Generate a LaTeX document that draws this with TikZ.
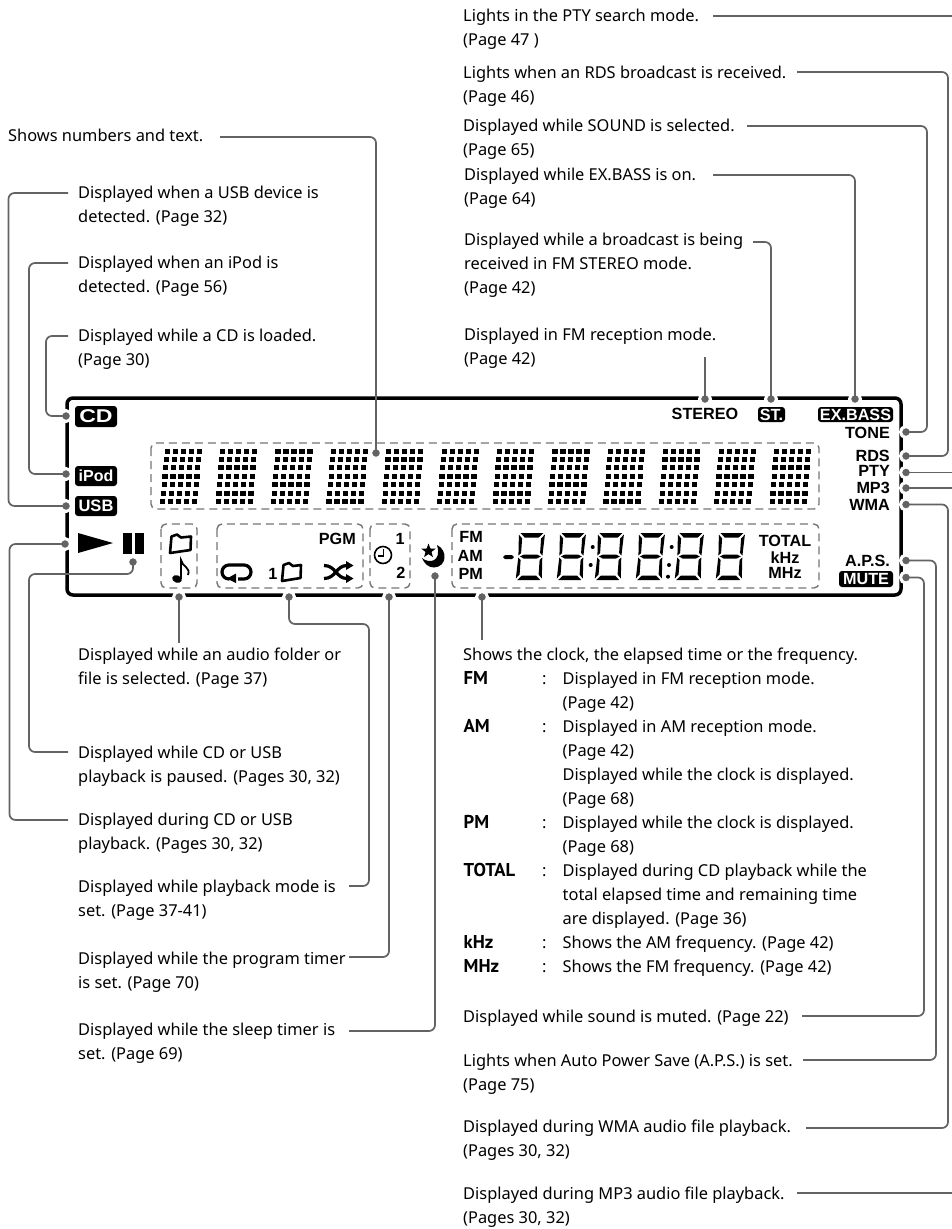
\documentclass[tikz,border=0pt]{standalone}
\usepackage{fontspec}
\usepackage{graphicx}
\setmainfont{Noto Sans}
\newfontfamily\lcdfont{Liberation Sans}
\newfontfamily\rowfont{PT Sans}
\usetikzlibrary{calc,shapes.geometric}
\definecolor{leadgray}{HTML}{636363}
\definecolor{dashgray}{HTML}{757575}

\begin{document}
\begin{tikzpicture}[x=1pt,y=-1pt,inner sep=0pt,
	lbl/.style={anchor=north west,yshift=11.3pt,align=left,font=\fontsize{16.4}{24}\selectfont},
	lcd/.style={font=\lcdfont\bfseries\fontsize{16.2}{17}\selectfont},
	lcdright/.style={lcd,anchor=east},
	badge/.style={fill=black,text=white,rounded corners=3pt,lcd},
	dot/.style={circle,fill=leadgray,draw=white,line width=3pt,minimum size=11pt},
	lead/.style={draw=leadgray,line width=1.7pt,rounded corners=6pt},
	dashbox/.style={draw=dashgray,line width=1.4pt,dash pattern=on 8pt off 5pt,rounded corners=5pt},
	icon/.style={draw=black,line width=2.6pt,line join=round}]
	
	\path[use as bounding box] (0,0) rectangle (952,1229);
	
	\draw[line width=3.5pt,rounded corners=6pt] (67,398) rectangle (901,595);
	
	\draw[dashbox] (151,443) rectangle (819,509);
	\draw[dashbox] (161,524) rectangle (197,588);
	\draw[dashbox] (217,524) rectangle (363,588);
	\draw[dashbox] (370,524) rectangle (410,588);
	\draw[dashbox] (452,524) rectangle (819,588);
	
	\foreach \c in {0,...,11}{
		\foreach \i in {0,...,4}{
			\foreach \j in {0,...,6}{
				\fill ({164.5+\c*55.4+\i*8-\j*0.72},{448.5+\j*8.4}) rectangle +(5.2,5);
			}
		}
	};
	
	\node at (96,416.5) [badge,minimum width=42pt,minimum height=21pt,font=\lcdfont\bfseries\fontsize{18.5}{19}\selectfont] (bcd) {\scalebox{1.25}[1]{CD}};
	\node at (96,476) [badge,minimum width=42pt,minimum height=20pt,font=\lcdfont\bfseries\fontsize{16}{16}\selectfont] (bipod) {iPod};
	\node at (96,506) [badge,minimum width=42pt,minimum height=20pt,font=\lcdfont\bfseries\fontsize{16.5}{16}\selectfont] (busb) {USB};
	
	\node at (705,414) [lcd] (lstereo) {STEREO};
	\node at (771.5,414.5) [badge,minimum width=27pt,minimum height=15pt] (bst) {ST.};
	\node at (855.5,414.5) [badge,minimum width=75pt,minimum height=15pt] (bexbass) {EX.BASS};
	\node at (890,433) [lcdright] (ltone) {TONE};
	\node at (890,456) [lcdright] (lrds) {RDS};
	\node at (890,471) [lcdright] (lpty) {PTY};
	\node at (890,488) [lcdright] (lmp3) {MP3};
	\node at (890,505) [lcdright] (lwma) {WMA};
	\node at (890,561) [lcdright] (laps) {A.P.S.};
	\node at (866,579) [badge,minimum width=54pt,minimum height=16pt] (bmute) {MUTE};
	
	\fill (78,533) -- (113,543) -- (78,553) -- cycle;
	\fill (123,533) rectangle (132,554);
	\fill (135,533) rectangle (144,554);
	
	\draw[icon] (170,553) -- (171.5,536.5) -- (177,534.5) -- (181,537.5) -- (191,536.5) -- (190.5,550) -- cycle;
	\draw[icon] (282,581) -- (283.5,565) -- (289,563) -- (293,566) -- (301,565) -- (300.5,578) -- cycle;
	\fill[rotate around={-20:(177,579)}] (177,579) ellipse (5pt and 3.7pt);
	\draw[line width=1.8pt] (181,579) -- (181,560) .. controls (182,567) and (191,567) .. (188,575);
	
	\draw[icon,line width=3.2pt,rounded corners=7pt] (238,579) -- (251,579) -- (251,565) -- (222,565) -- (222,579) -- (228,579);
	\fill (227,578.5) -- (236,573.5) -- (236,583) -- cycle;
	
	\draw[icon,line width=3.2pt] (324,565.5) .. controls (336,565.5) and (336,578.5) .. (347,578.5);
	\draw[icon,line width=3.2pt] (324,578.5) .. controls (336,578.5) and (336,565.5) .. (347,565.5);
	\fill (346,561) -- (353.5,565.5) -- (346,570) -- cycle;
	\fill (346,574) -- (353.5,578.5) -- (346,583) -- cycle;
	
	\node at (273,574) [lcd] (lone) {1};
	\node at (356,539) [lcdright] (lpgm) {PGM};
	\node at (400,539) [lcd] (ltimera) {1};
	\node at (401,573) [lcd] (ltimerb) {2};
	\node at (383,555) [circle,draw,line width=1.6pt,minimum size=17pt] (clk) {};
	\draw[line width=1.5pt] (383.5,549) -- (383.5,556) -- (378,556);
	
	\fill (437,545) .. controls (448,550) and (447,567) .. (434,567.5) .. controls (428,567.5) and (424,563) .. (422,558) .. controls (429,564) and (442,562) .. (437,545) -- cycle;
	\node at (428.5,551) [star,star points=5,star point ratio=2.4,fill=black,minimum size=15pt] (stars) {};
	
	\foreach \d in {519,560,598,639,678,719}{
		\begin{scope}[shift={(\d,533)},xslant=0.07]
			\fill (1.5,0) -- (24.5,0) -- (20,4.5) -- (6,4.5) -- cycle;
			\fill (2.5,23.5) -- (6.5,21.5) -- (19.5,21.5) -- (23.5,23.5) -- (19.5,25.5) -- (6.5,25.5) -- cycle;
			\fill (1.5,47) -- (24.5,47) -- (20,42.5) -- (6,42.5) -- cycle;
			\fill (0,1.5) -- (3.5,5.5) -- (3.5,20) -- (1,22.5) -- cycle;
			\fill (26,1.5) -- (22.5,5.5) -- (22.5,20) -- (25,22.5) -- cycle;
			\fill (0,45.5) -- (3.5,41.5) -- (3.5,27) -- (1,24.5) -- cycle;
			\fill (26,45.5) -- (22.5,41.5) -- (22.5,27) -- (25,24.5) -- cycle;
		\end{scope}
	};
	\fill (503,557) -- (505,555) -- (512,555) -- (514,557) -- (512,559) -- (505,559) -- cycle;
	\foreach \x/\y in {592.7/547,590.7/565,671.7/547,669/565,668/576.7}{
		\fill (\x,\y) circle (2pt);
	};
	
	\node at (483,537) [lcdright] (lfm) {FM};
	\node at (483,556) [lcdright] (lam) {AM};
	\node at (483,574) [lcdright] (lpm) {PM};
	\node at (785,541) [lcd] (ltotal) {TOTAL};
	\node at (785,558) [lcd] (lkhz) {kHz};
	\node at (785,573) [lcd] (lmhz) {MHz};
	
	\node at (463,16) [lbl] (tpty) {\strut Lights in the PTY search mode.\\(Page 47 )};
	\node at (463,73) [lbl] (trds) {\strut Lights when an RDS broadcast is received.\\(Page 46)};
	\node at (463,126) [lbl] (tsound) {\strut Displayed while SOUND is selected.\\(Page 65)};
	\node at (464,175) [lbl] (tbass) {\strut Displayed while EX.BASS is on.\\(Page 64)};
	\node at (464,240) [lbl] (tst) {\strut Displayed while a broadcast is being\\received in FM STEREO mode.\\(Page 42)};
	\node at (464,335) [lbl] (tstereo) {\strut Displayed in FM reception mode.\\(Page 42)};
	
	\node at (8,136) [lbl] (tnum) {\strut Shows numbers and text.};
	\node at (78,193) [lbl] (tusb) {\strut Displayed when a USB device is\\detected. (Page 32)};
	\node at (78,263) [lbl] (tipod) {\strut Displayed when an iPod is\\detected. (Page 56)};
	\node at (78,336) [lbl] (tcd) {\strut Displayed while a CD is loaded.\\(Page 30)};
	
	\node at (78,655) [lbl] (tfolder) {\strut Displayed while an audio folder or\\file is selected. (Page 37)};
	\node at (78,753) [lbl] (tpause) {\strut Displayed while CD or USB\\playback is paused. (Pages 30, 32)};
	\node at (78,820) [lbl] (tplay) {\strut Displayed during CD or USB\\playback. (Pages 30, 32)};
	\node at (78,887) [lbl] (tmode) {\strut Displayed while playback mode is\\set. (Page 37-41)};
	\node at (78,959) [lbl] (ttimer) {\strut Displayed while the program timer\\is set. (Page 70)};
	\node at (78,1030) [lbl] (tsleep) {\strut Displayed while the sleep timer is\\set. (Page 69)};
	
	\node at (463,655) [lbl] (tclock) {\strut Shows the clock, the elapsed time or the frequency.};
	\foreach \y/\n/\k in {679/FM/a,727/AM/b,823/PM/c,871/TOTAL/d,943/kHz/e,967/MHz/f}{
		\node at (463.5,\y) [lbl] (r\k) {\strut\rowfont\bfseries\fontsize{18.6}{24}\selectfont\n};
		\node at (542,\y) [lbl] (s\k) {\strut:};
	};
	\node at (562.5,679) [lbl] (ufm) {\strut Displayed in FM reception mode.\\(Page 42)};
	\node at (562.5,727) [lbl] (uam) {\strut Displayed in AM reception mode.\\(Page 42)\\Displayed while the clock is displayed.\\(Page 68)};
	\node at (562.5,823) [lbl] (upm) {\strut Displayed while the clock is displayed.\\(Page 68)};
	\node at (562.5,871) [lbl] (utotal) {\strut Displayed during CD playback while the\\total elapsed time and remaining time\\are displayed. (Page 36)};
	\node at (562.5,943) [lbl] (ukhz) {\strut Shows the AM frequency. (Page 42)};
	\node at (562.5,967) [lbl] (umhz) {\strut Shows the FM frequency. (Page 42)};
	
	\node at (463,1017) [lbl] (tmute) {\strut Displayed while sound is muted. (Page 22)};
	\node at (463,1061) [lbl] (taps) {\strut Lights when Auto Power Save (A.P.S.) is set.\\(Page 75)};
	\node at (463,1127) [lbl] (twma) {\strut Displayed during WMA audio file playback.\\(Pages 30, 32)};
	\node at (463,1194) [lbl] (tmp) {\strut Displayed during MP3 audio file playback.\\(Pages 30, 32)};
	
	\node at (66,416) [dot] (dcd) {};
	\node at (66,474) [dot] (dipod) {};
	\node at (66,506) [dot] (dusb) {};
	\node at (65,544) [dot] (dplay) {};
	\node at (133,562) [dot] (dpause) {};
	\node at (179,597) [dot] (dfolder) {};
	\node at (289,597) [dot] (dmode) {};
	\node at (389,597) [dot] (dtimer) {};
	\node at (435,576) [dot] (dsleep) {};
	\node at (376,453) [dot] (dnum) {};
	\node at (482,597) [dot] (dclock) {};
	\node at (705,399) [dot] (dstereo) {};
	\node at (771,399) [dot] (dst) {};
	\node at (855,399) [dot] (dbass) {};
	\node at (906,432) [dot] (dsound) {};
	\node at (906,456) [dot] (drds) {};
	\node at (906,472.5) [dot] (dpty) {};
	\node at (906,488) [dot] (dmp) {};
	\node at (906,504.5) [dot] (dwma) {};
	\node at (906,560.5) [dot] (daps) {};
	\node at (906,577.5) [dot] (dmute) {};
	
	\coordinate (ecd) at (68,336);
	\coordinate (eipod) at (68,263);
	\coordinate (eusb) at (68,193);
	\coordinate (eplay) at (68,820);
	\coordinate (epause) at (68,752);
	\coordinate (efolder) at (179,643);
	\coordinate (emode) at (349,886);
	\coordinate (etimer) at (349,957);
	\coordinate (esleep) at (349,1031);
	\coordinate (enum) at (220,137);
	\coordinate (eclock) at (482,640);
	\coordinate (estereo) at (705,357);
	\coordinate (est) at (753,242);
	\coordinate (ebass) at (713,175);
	\coordinate (esound) at (747,126);
	\coordinate (erds) at (797,72);
	\coordinate (eptyt) at (713,16);
	\coordinate (eptya) at (952,16);
	\coordinate (eptyb) at (952,472.5);
	\coordinate (empb) at (952,488);
	\coordinate (empa) at (952,1193);
	\coordinate (empt) at (797,1193);
	\coordinate (ewma) at (806,1128);
	\coordinate (eaps) at (803,1060);
	\coordinate (emute) at (802,1016);
	
	\draw[lead] (dcd.center) -| (46,376) |- (ecd);
	\draw[lead] (dipod.center) -| (29,376) |- (eipod);
	\draw[lead] (dusb.center) -| (8.5,376) |- (eusb);
	\draw[lead] (dplay.center) -| (9.5,700) |- (eplay);
	\draw[lead] (dpause.center) |- (29,574) |- (epause);
	\draw[lead] (dfolder.center) -- (efolder);
	\draw[lead] (dmode.center) |- (369,624) |- (emode);
	\draw[lead] (dtimer.center) |- (etimer);
	\draw[lead] (dsleep.center) |- (esleep);
	\draw[lead] (dnum.center) |- (enum);
	\draw[lead] (dclock.center) -- (eclock);
	\draw[lead] (dstereo.center) -- (estereo);
	\draw[lead] (dst.center) |- (est);
	\draw[lead] (dbass.center) |- (ebass);
	\draw[lead] (dsound.center) -| (927,200) |- (esound);
	\draw[lead] (drds.center) -| (948,200) |- (erds);
	\draw[lead] (dpty.center) -- (eptyb);
	\draw[lead] (eptyt) -- (eptya);
	\draw[lead] (dmp.center) -- (empb);
	\draw[lead] (empt) -- (empa);
	\draw[lead] (dwma.center) -| (948,800) |- (ewma);
	\draw[lead] (daps.center) -| (936,800) |- (eaps);
	\draw[lead] (dmute.center) -| (924,800) |- (emute);
	
\end{tikzpicture}
\end{document}
